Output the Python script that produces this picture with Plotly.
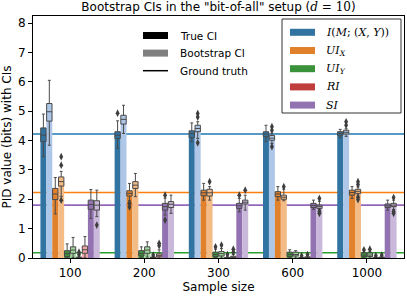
import plotly.graph_objects as go

# ---------------- data ----------------
SAMPLE_SIZES = ["100", "200", "300", "600", "1000"]
SERIES = ["I", "UIX", "UIY", "RI", "SI"]
SERIES_LABELS = [
    "<i>I</i>(<i>M</i>; (<i>X</i>, <i>Y</i>))",
    "<i>UI</i><sub><i>X</i></sub>",
    "<i>UI</i><sub><i>Y</i></sub>",
    "<i>RI</i>",
    "<i>SI</i>",
]
GROUND_TRUTH = [4.22, 2.23, 0.18, 0.0, 1.80]

# True CI (dark) box statistics, rows = series, cols = sample sizes
TRUE_Q1 = [
    [3.96, 4.07, 4.10, 4.13, 4.18],
    [1.99, 2.11, 2.12, 2.09, 2.14],
    [0.05, 0.07, 0.05, 0.05, 0.05],
    [0.00, 0.00, 0.00, 0.00, 0.00],
    [1.66, 1.63, 1.69, 1.72, 1.72],
]
TRUE_MED = [
    [4.18, 4.18, 4.24, 4.22, 4.24],
    [2.18, 2.20, 2.22, 2.18, 2.23],
    [0.15, 0.15, 0.12, 0.12, 0.10],
    [0.01, 0.01, 0.01, 0.01, 0.01],
    [1.82, 1.75, 1.78, 1.79, 1.78],
]
TRUE_Q3 = [
    [4.43, 4.30, 4.33, 4.30, 4.30],
    [2.37, 2.29, 2.31, 2.26, 2.31],
    [0.25, 0.25, 0.20, 0.20, 0.18],
    [0.03, 0.03, 0.02, 0.02, 0.02],
    [1.97, 1.86, 1.86, 1.86, 1.84],
]
TRUE_LO = [
    [3.45, 3.73, 3.96, 3.96, 4.10],
    [1.50, 1.95, 1.97, 1.97, 2.03],
    [0.00, 0.00, 0.00, 0.00, 0.00],
    [0.00, 0.00, 0.00, 0.00, 0.00],
    [1.35, 1.46, 1.57, 1.66, 1.63],
]
TRUE_HI = [
    [4.90, 4.67, 4.60, 4.52, 4.38],
    [2.74, 2.54, 2.54, 2.43, 2.43],
    [0.48, 0.38, 0.30, 0.28, 0.25],
    [0.06, 0.05, 0.04, 0.03, 0.03],
    [2.33, 2.04, 2.03, 1.97, 1.97],
]
TRUE_OUTLIERS = [
    [[], [4.93], [], [], []],
    [[], [1.86, 1.74], [], [], []],
    [[], [], [0.38], [], [0.28]],
    [[0.12, 0.20], [0.10], [0.12], [0.08], [0.08]],
    [[], [2.14, 1.29], [2.14], [], []],
]

# Bootstrap CI (light) box statistics
BOOT_Q1 = [
    [4.66, 4.56, 4.30, 4.01, 4.22],
    [2.45, 2.37, 2.11, 2.00, 2.20],
    [0.16, 0.16, 0.07, 0.07, 0.05],
    [0.16, 0.04, 0.01, 0.00, 0.00],
    [1.63, 1.72, 1.84, 1.69, 1.75],
]
BOOT_MED = [
    [4.98, 4.72, 4.41, 4.08, 4.28],
    [2.60, 2.48, 2.22, 2.07, 2.27],
    [0.27, 0.27, 0.15, 0.12, 0.10],
    [0.28, 0.08, 0.03, 0.02, 0.02],
    [1.80, 1.83, 1.90, 1.75, 1.80],
]
BOOT_Q3 = [
    [5.26, 4.86, 4.52, 4.17, 4.35],
    [2.76, 2.60, 2.34, 2.14, 2.34],
    [0.38, 0.38, 0.22, 0.20, 0.17],
    [0.41, 0.14, 0.06, 0.04, 0.03],
    [1.95, 1.92, 1.97, 1.80, 1.86],
]
BOOT_LO = [
    [3.84, 4.24, 4.07, 3.90, 4.14],
    [2.10, 2.09, 1.97, 1.95, 2.14],
    [0.02, 0.03, 0.00, 0.00, 0.00],
    [0.00, 0.00, 0.00, 0.00, 0.00],
    [1.41, 1.52, 1.63, 1.65, 1.65],
]
BOOT_HI = [
    [6.05, 5.20, 4.64, 4.25, 4.40],
    [2.95, 2.88, 2.43, 2.34, 2.42],
    [0.70, 0.55, 0.32, 0.25, 0.22],
    [0.73, 0.28, 0.12, 0.08, 0.06],
    [2.31, 2.14, 2.14, 1.93, 1.97],
]
BOOT_OUTLIERS = [
    [[], [], [4.92, 4.80, 3.92], [4.47, 4.35, 3.79], [4.64, 4.52]],
    [[3.45, 3.16, 1.97], [], [2.60], [2.43], [2.60, 2.50, 2.07, 1.99]],
    [[], [], [0.44], [], [0.30]],
    [[], [0.42, 0.50], [0.20, 0.30], [0.12], [0.10]],
    [[1.12], [], [2.31], [2.03, 1.58, 1.52], [2.06, 1.58, 1.52]],
]

# ---------------- style ----------------
DARK = ["#3274a1", "#e1812c", "#3a923a", "#c03d3e", "#9372b2"]
LIGHT = ["#aec7e8", "#f3bb86", "#a1d59b", "#f0a3a3", "#c9b8d9"]
LINE = ["#1f77b4", "#ff7f0e", "#2ca02c", "#d62728", "#9467bd"]
EDGE = "#4a4a4a"
FONT = "DejaVu Sans"
SERIF = "DejaVu Serif"

W, H = 407, 297
L, R, T, B = 33, 3, 16, 39
PW, PH = W - L - R, H - T - B

SLOT = 0.16
BARW = 0.08

fig = go.Figure()

out_x, out_y = [], []
for s, name in enumerate(SERIES):
    centers = [i + (s - 2) * SLOT for i in range(len(SAMPLE_SIZES))]
    for kind, (q1, med, q3, lo, hi, outs, col) in enumerate([
        (TRUE_Q1, TRUE_MED, TRUE_Q3, TRUE_LO, TRUE_HI, TRUE_OUTLIERS, DARK),
        (BOOT_Q1, BOOT_MED, BOOT_Q3, BOOT_LO, BOOT_HI, BOOT_OUTLIERS, LIGHT),
    ]):
        xs = [c + (kind - 0.5) * BARW for c in centers]
        fig.add_trace(go.Bar(
            x=xs, y=med[s], width=BARW, marker=dict(color=col[s], line=dict(width=0)),
            showlegend=False, hoverinfo="skip"))
        fig.add_trace(go.Box(
            x=xs, q1=q1[s], median=med[s], q3=q3[s], lowerfence=lo[s], upperfence=hi[s],
            width=BARW * 0.9, whiskerwidth=0.55, fillcolor=col[s],
            line=dict(color=EDGE, width=1), boxpoints=False, showlegend=False))
        for i, vals in enumerate(outs[s]):
            for v in vals:
                out_x.append(xs[i])
                out_y.append(v)

fig.add_trace(go.Scatter(
    x=out_x, y=out_y, mode="markers",
    marker=dict(symbol="diamond-tall", size=5.5, color="#3d3d3d", line=dict(width=0)),
    showlegend=False))

shapes = []
# ground-truth lines (behind bars)
for s, gt in enumerate(GROUND_TRUTH):
    if gt <= 0:
        continue
    shapes.append(dict(type="line", xref="paper", yref="y", x0=0, x1=1, y0=gt, y1=gt,
                       line=dict(color=LINE[s], width=1.6), layer="below"))

def px(xp):
    return (xp - L) / PW

def py(yp):
    return (H - B - yp) / PH

annotations = []
# left legend
left_items = [("True CI", "#000000", "rect"), ("Bootstrap CI", "#808080", "rect"),
              ("Ground truth", "#000000", "line")]
for k, (txt, col, kind) in enumerate(left_items):
    yc = 35.5 + k * 17.6
    if kind == "rect":
        shapes.append(dict(type="rect", xref="paper", yref="paper", x0=px(143), x1=px(168),
                           y0=py(yc - 3.5), y1=py(yc + 3.5), fillcolor=col, line=dict(width=0)))
    else:
        shapes.append(dict(type="line", xref="paper", yref="paper", x0=px(143), x1=px(168),
                           y0=py(yc), y1=py(yc), line=dict(color=col, width=1.5)))
    annotations.append(dict(xref="paper", yref="paper", x=px(178), y=py(yc), text=txt,
                            showarrow=False, xanchor="left", yanchor="middle",
                            font=dict(family=FONT, size=10.5, color="#000")))

# right legend frame
shapes.append(dict(type="rect", xref="paper", yref="paper", x0=px(282), x1=px(401),
                   y0=py(113), y1=py(19), fillcolor="rgba(255,255,255,0.8)",
                   line=dict(color="#333333", width=1)))
for s, lab in enumerate(SERIES_LABELS):
    yc = 32.3 + s * 18.2
    shapes.append(dict(type="rect", xref="paper", yref="paper", x0=px(290), x1=px(315),
                       y0=py(yc - 3.5), y1=py(yc + 3.5), fillcolor=DARK[s], line=dict(width=0)))
    annotations.append(dict(xref="paper", yref="paper", x=px(324), y=py(yc), text=lab,
                            showarrow=False, xanchor="left", yanchor="middle",
                            font=dict(family=SERIF, size=11, color="#000")))

fig.update_layout(
    width=W, height=H,
    margin=dict(l=L, r=R, t=T, b=B, pad=0),
    paper_bgcolor="white", plot_bgcolor="white",
    barmode="overlay", boxmode="overlay",
    showlegend=False,
    shapes=shapes, annotations=annotations,
    font=dict(family=FONT, size=12, color="#000"),
    title=dict(text='Bootstrap CIs in the "bit-of-all" setup (<span style="font-family:DejaVu Serif"><i>d</i> = 10</span>)',
               x=0.5, xref="paper", xanchor="center", y=1 - 7 / H, yanchor="middle",
               font=dict(family=FONT, size=12, color="#000")),
    xaxis=dict(range=[-0.5, 4.5], tickvals=list(range(len(SAMPLE_SIZES))), ticktext=SAMPLE_SIZES,
               showgrid=False, zeroline=False, showline=True, linecolor="#000", linewidth=1,
               mirror=True, ticks="outside", ticklen=4, tickwidth=1, tickcolor="#000",
               title=dict(text="Sample size", standoff=2, font=dict(size=12)),
               tickfont=dict(size=12)),
    yaxis=dict(range=[0, 8.24], tickvals=list(range(9)), showgrid=False, zeroline=False,
               showline=True, linecolor="#000", linewidth=1, mirror=True,
               ticks="outside", ticklen=4, tickwidth=1, tickcolor="#000",
               title=dict(text="PID value (bits) with CIs", standoff=4, font=dict(size=12)),
               tickfont=dict(size=12)),
)

fig.write_html("out.html", config={"displayModeBar": False},
               post_script="document.body.style.margin='0';document.body.style.padding='0';")
